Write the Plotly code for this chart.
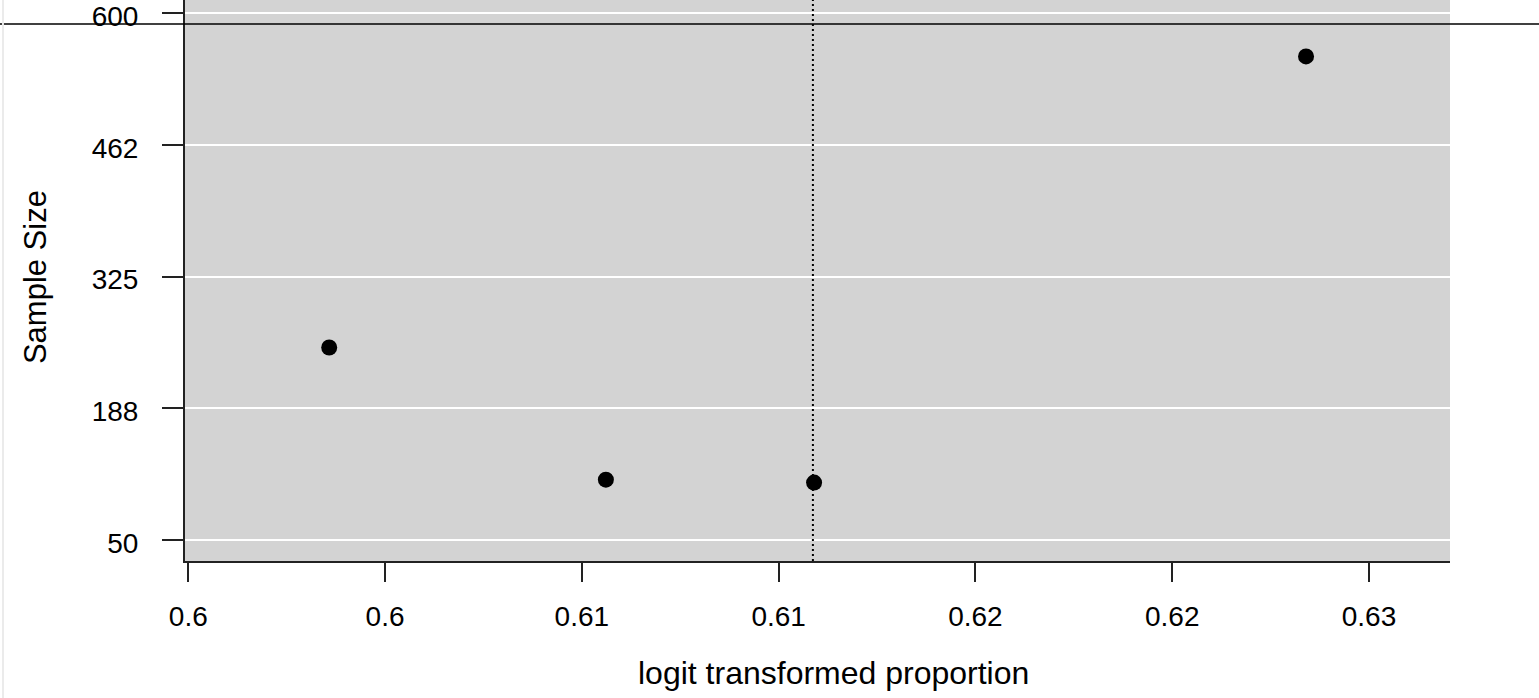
import plotly.graph_objects as go

# Data
proportion = [0.60358, 0.61061, 0.61590, 0.62840]   # logit transformed proportion
sample_size = [251, 113, 110, 555]
pooled_estimate = 0.61587                            # dotted vertical reference line
x_tickvals = [0.600, 0.605, 0.610, 0.615, 0.620, 0.625, 0.630]
x_ticktext = ["0.6", "0.6", "0.61", "0.61", "0.62", "0.62", "0.63"]
y_tickvals = [50, 187.5, 325, 462.5, 600]
y_ticktext = ["50", "188", "325", "462", "600"]
x_range = [0.599916, 0.632058]
y_range = [28.07, 613.9]
hline_value = 588.8

FONT = "Liberation Sans, Arial, sans-serif"

fig = go.Figure()
fig.add_trace(go.Scatter(
    x=proportion, y=sample_size, mode="markers",
    marker=dict(color="black", size=16, symbol="circle"),
    showlegend=False, hoverinfo="x+y",
))

fig.add_shape(type="line", xref="x", yref="paper",
              x0=pooled_estimate, x1=pooled_estimate, y0=0, y1=1,
              line=dict(color="black", width=2, dash="2px,3px"), layer="above")
fig.add_shape(type="line", xref="paper", yref="y",
              x0=-0.2, x1=1.2, y0=hline_value, y1=hline_value,
              line=dict(color="black", width=1.5), layer="above")
fig.add_shape(type="line", xref="paper", yref="paper",
              x0=-0.1439, x1=-0.1439, y0=-0.25, y1=1.0,
              line=dict(color="#ebebeb", width=2))

fig.update_layout(
    width=1539, height=698,
    margin=dict(l=185, r=89, t=0, b=137),
    paper_bgcolor="white", plot_bgcolor="#d3d3d3",
    font=dict(family=FONT, size=28, color="black"),
    xaxis=dict(
        range=x_range, tickvals=x_tickvals, ticktext=x_ticktext,
        automargin=False,
        showgrid=False, zeroline=False,
        showline=True, linecolor="#222222", linewidth=2,
        ticks="outside", ticklen=19, tickwidth=2, tickcolor="#222222",
        ticklabelstandoff=10, ticklabeloverflow="allow",
        tickfont=dict(family=FONT, size=28, color="black"),
    ),
    yaxis=dict(
        range=y_range, tickvals=y_tickvals, ticktext=y_ticktext,
        automargin=False,
        showgrid=True, gridcolor="white", gridwidth=2, zeroline=False,
        showline=True, linecolor="#222222", linewidth=2,
        ticks="outside", ticklen=21, tickwidth=2, tickcolor="#222222",
        ticklabelstandoff=18, ticklabelshift=3, ticklabeloverflow="allow",
        tickfont=dict(family=FONT, size=28, color="black"),
    ),
    annotations=[
        dict(text="logit transformed proportion", xref="paper", yref="paper",
             x=0.5123, y=-0.2, xanchor="center", yanchor="middle",
             showarrow=False, font=dict(family=FONT, size=32, color="black")),
        dict(text="Sample Size", xref="paper", yref="paper",
             x=-0.1186, y=0.506, xanchor="center", yanchor="middle",
             textangle=-90, showarrow=False,
             font=dict(family=FONT, size=31, color="black")),
    ],
)

post = (
    "document.body.style.margin='0px';"
    "document.body.style.overflow='hidden';"
    "var d=document.getElementById('{plot_id}');"
    "d.style.position='absolute';d.style.top='0px';d.style.left='0px';"
)
fig.write_html("out.html", config={"displayModeBar": False}, post_script=post)
